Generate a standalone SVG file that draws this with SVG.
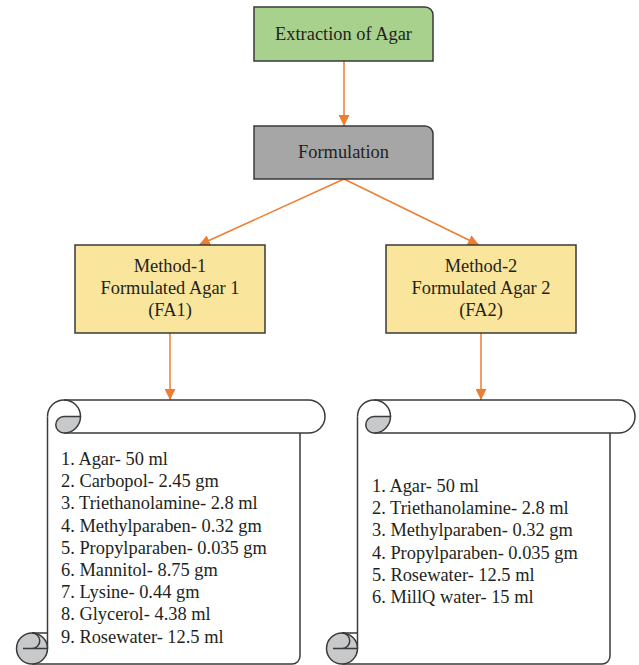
<svg xmlns="http://www.w3.org/2000/svg" width="639" height="665" viewBox="0 0 639 665">
<defs>
<marker id="ah" viewBox="0 0 10 10" refX="10" refY="5" markerWidth="11" markerHeight="11" markerUnits="userSpaceOnUse" orient="auto">
<path d="M0,0 L10,5 L0,10 Z" fill="#ed7d31"/>
</marker>
<g id="scroll">
<path d="M47.5,416.5 L47.5,664 L292,664 A8,8 0 0 0 300,656 L300,416.5 Z" fill="#fff"/>
<path d="M64,400 L308.5,400 A16.5,16.5 0 0 1 308.5,433 L64,433 Z" fill="#fff"/>
<path d="M64,400 L308.5,400 A16.5,16.5 0 0 1 308.5,433 L64,433" fill="none" class="ln"/>
<path d="M300,433 L300,656 A8,8 0 0 1 292,664 L32,664" fill="none" class="ln"/>
<path d="M47.5,416.5 A16.5,16.5 0 0 1 80.5,416.5" fill="none" class="ln"/>
<path d="M64,416.5 L80.5,416.5 A16.5,16.5 0 0 1 64,433 A8.25,8.25 0 0 1 64,416.5 Z" fill="#c8c9cb" class="ln"/>
<line x1="47.5" y1="416.5" x2="47.5" y2="648.5" class="ln"/>
<circle cx="32" cy="648.5" r="15.5" fill="#c8c9cb" class="ln"/>
<path d="M32,633 L47.5,633 M32,633 A7.75,7.75 0 0 1 32,648.5 M23,648.5 L47.5,648.5" fill="none" class="ln"/>
</g>
</defs>
<style>
.ln{stroke:#3a3a3a;stroke-width:1.5}
.box{stroke:#3a3a3a;stroke-width:1.5}
.t{font-family:"Liberation Serif","Times New Roman",serif;font-size:18.4px;fill:#231f20}
.c{text-anchor:middle}
.arr{stroke:#ed7d31;stroke-width:1.5;fill:none;marker-end:url(#ah)}
</style>
<rect width="639" height="665" fill="#fff"/>
<g id="connectors">
<line class="arr" x1="344" y1="61" x2="344" y2="126"/>
<line class="arr" x1="344" y1="179" x2="199" y2="245"/>
<line class="arr" x1="344" y1="179" x2="479" y2="245"/>
<line class="arr" x1="170" y1="333" x2="170" y2="400"/>
<line class="arr" x1="481" y1="333" x2="481" y2="400"/>
</g>
<g id="extraction">
<path class="box" d="M254,7 L425,7 A8,8 0 0 1 433,15 L433,61 L254,61 Z" fill="#a9d18e"/>
<text class="t c" x="343.5" y="40">Extraction of Agar</text>
</g>
<g id="formulation">
<path class="box" d="M254,126 L425,126 A8,8 0 0 1 433,134 L433,179 L254,179 Z" fill="#a6a6a6"/>
<text class="t c" x="343.5" y="158">Formulation</text>
</g>
<g id="method1">
<rect class="box" x="75" y="245" width="190" height="88" fill="#f9e59c"/>
<text class="t c" x="170" y="272">Method-1</text>
<text class="t c" x="170" y="294">Formulated Agar 1</text>
<text class="t c" x="170" y="316">(FA1)</text>
</g>
<g id="method2">
<rect class="box" x="386" y="245" width="190" height="88" fill="#f9e59c"/>
<text class="t c" x="481" y="272">Method-2</text>
<text class="t c" x="481" y="294">Formulated Agar 2</text>
<text class="t c" x="481" y="316">(FA2)</text>
</g>
<g id="scroll1">
<use href="#scroll"/>
<text class="t" x="61" y="465">1. Agar- 50 ml</text>
<text class="t" x="61" y="487.2">2. Carbopol- 2.45 gm</text>
<text class="t" x="61" y="509.4">3. Triethanolamine- 2.8 ml</text>
<text class="t" x="61" y="531.6">4. Methylparaben- 0.32 gm</text>
<text class="t" x="61" y="553.8">5. Propylparaben- 0.035 gm</text>
<text class="t" x="61" y="576">6. Mannitol- 8.75 gm</text>
<text class="t" x="61" y="598.2">7. Lysine- 0.44 gm</text>
<text class="t" x="61" y="620.4">8. Glycerol- 4.38 ml</text>
<text class="t" x="61" y="642.6">9. Rosewater- 12.5 ml</text>
</g>
<g id="scroll2">
<use href="#scroll" transform="translate(310,0)"/>
<text class="t" x="372" y="492">1. Agar- 50 ml</text>
<text class="t" x="372" y="514.2">2. Triethanolamine- 2.8 ml</text>
<text class="t" x="372" y="536.4">3. Methylparaben- 0.32 gm</text>
<text class="t" x="372" y="558.6">4. Propylparaben- 0.035 gm</text>
<text class="t" x="372" y="580.8">5. Rosewater- 12.5 ml</text>
<text class="t" x="372" y="603">6. MillQ water- 15 ml</text>
</g>
</svg>
